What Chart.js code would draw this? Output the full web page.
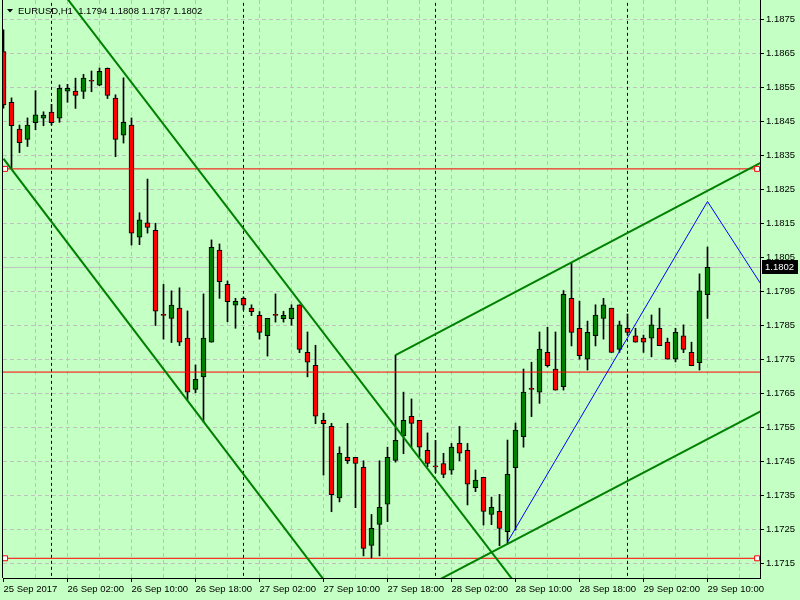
<!DOCTYPE html>
<html>
<head>
<meta charset="utf-8">
<script src="https://cdn.jsdelivr.net/npm/chart.js@4.4.1/dist/chart.umd.min.js"></script>
<style>
  html, body { margin: 0; padding: 0; background: #c4ffc4; }
  #wrap { width: 800px; height: 600px; }
</style>
</head>
<body>
<div id="wrap"><canvas id="myChart" width="800" height="600"></canvas></div>
<script>
// EURUSD H1, one entry per bar (25 Sep 18:00 .. 29 Sep 10:00)
var symbol = 'EURUSD,H1';
var opens = [1.18655,1.18506,1.18427,1.18397,1.18446,1.18459,1.18477,1.18459,1.18539,1.18539,
  1.18538,1.18568,1.18556,1.18606,1.18518,1.18409,1.18439,1.18109,1.18151,1.18129,
  1.17879,1.17870,1.17900,1.17812,1.17661,1.17698,1.17800,1.18071,1.17970,1.17909,
  1.17929,1.17900,1.17879,1.17819,1.17879,1.17869,1.17869,1.17910,1.17770,1.17732,
  1.17570,1.17552,1.17342,1.17461,1.17461,1.17432,1.17202,1.17264,1.17323,1.17452,
  1.17524,1.17582,1.17570,1.17482,1.17433,1.17443,1.17423,1.17502,1.17482,1.17372,
  1.17402,1.17293,1.17302,1.17242,1.17431,1.17522,1.17661,1.17653,1.17770,1.17721,
  1.17669,1.17929,1.17841,1.17750,1.17819,1.17870,1.17900,1.17779,1.17841,1.17819,
  1.17812,1.17812,1.17841,1.17800,1.17750,1.17819,1.17770,1.17740,1.17940];
var highs = [1.18719,1.18519,1.18439,1.18460,1.18540,1.18478,1.18500,1.18557,1.18559,1.18577,
  1.18588,1.18598,1.18607,1.18607,1.18528,1.18578,1.18460,1.18181,1.18280,1.18150,
  1.17970,1.17951,1.17960,1.17892,1.17733,1.17942,1.18101,1.18089,1.17980,1.17929,
  1.17933,1.17910,1.17890,1.17870,1.17942,1.17891,1.17910,1.17910,1.17830,1.17791,
  1.17591,1.17561,1.17492,1.17561,1.17461,1.17451,1.17293,1.17451,1.17491,1.17762,
  1.17653,1.17633,1.17570,1.17533,1.17511,1.17473,1.17502,1.17552,1.17502,1.17424,
  1.17402,1.17344,1.17352,1.17512,1.17562,1.17721,1.17741,1.17830,1.17844,1.17830,
  1.17952,1.18032,1.17921,1.17862,1.17910,1.17929,1.17900,1.17862,1.17883,1.17841,
  1.17821,1.17880,1.17900,1.17812,1.17841,1.17851,1.17800,1.18001,1.18080];
var lows = [1.18489,1.18313,1.18358,1.18376,1.18425,1.18437,1.18439,1.18447,1.18506,1.18488,
  1.18517,1.18537,1.18555,1.18517,1.18346,1.18386,1.18086,1.18087,1.18121,1.17849,
  1.17809,1.17799,1.17790,1.17630,1.17651,1.17565,1.17800,1.17929,1.17860,1.17841,
  1.17895,1.17878,1.17809,1.17759,1.17859,1.17859,1.17850,1.17769,1.17698,1.17560,
  1.17409,1.17301,1.17330,1.17443,1.17313,1.17171,1.17164,1.17171,1.17272,1.17447,
  1.17472,1.17492,1.17463,1.17433,1.17416,1.17401,1.17411,1.17451,1.17321,1.17360,
  1.17262,1.17263,1.17201,1.17206,1.17247,1.17491,1.17581,1.17620,1.17727,1.17659,
  1.17659,1.17789,1.17750,1.17718,1.17789,1.17809,1.17770,1.17770,1.17821,1.17800,
  1.17770,1.17757,1.17790,1.17750,1.17742,1.17769,1.17731,1.17718,1.17870];
var closes = [1.18498,1.18437,1.18387,1.18439,1.18469,1.18468,1.18446,1.18547,1.18547,1.18526,
  1.18577,1.18568,1.18597,1.18526,1.18397,1.18447,1.18121,1.18160,1.18138,1.17891,
  1.17879,1.17909,1.17800,1.17653,1.17691,1.17812,1.18079,1.17978,1.17919,1.17920,
  1.17909,1.17890,1.17829,1.17870,1.17879,1.17879,1.17900,1.17779,1.17741,1.17582,
  1.17560,1.17351,1.17473,1.17451,1.17443,1.17193,1.17252,1.17314,1.17461,1.17511,
  1.17570,1.17561,1.17491,1.17443,1.17433,1.17411,1.17491,1.17473,1.17382,1.17394,
  1.17302,1.17314,1.17252,1.17411,1.17541,1.17653,1.17661,1.17780,1.17731,1.17659,
  1.17941,1.17829,1.17760,1.17829,1.17880,1.17910,1.17770,1.17851,1.17829,1.17800,
  1.17800,1.17851,1.17790,1.17750,1.17829,1.17779,1.17731,1.17951,1.18020];

// time labels, one every 8 bars
var timeLabels = ['25 Sep 2017','26 Sep 02:00','26 Sep 10:00','26 Sep 18:00','27 Sep 02:00',
  '27 Sep 10:00','27 Sep 18:00','28 Sep 02:00','28 Sep 10:00','28 Sep 18:00','29 Sep 02:00','29 Sep 10:00'];
var priceTicks = [1.1715,1.1725,1.1735,1.1745,1.1755,1.1765,1.1775,1.1785,1.1795,1.1805,
  1.1815,1.1825,1.1835,1.1845,1.1855,1.1865,1.1875];
var daySeparators = [6, 30, 54, 78]; // midnight bars

// objects drawn on the chart: [bar, price]
var channelDownTop = [[8, 1.18810], [64, 1.17090]];
var channelDownBottom = [[0, 1.18340], [42, 1.17040]];
var channelUpTop = [[49, 1.17762], [100, 1.18394]];
var channelUpBottom = [[50, 1.17046], [100, 1.17663]];
var zigzag = [[63, 1.17212], [88, 1.18214], [100, 1.17777]];
var hLines = [1.18310, 1.17712, 1.17164];
var hLineMarked = [true, false, true];
var markerBars = [0.2, 94.2];

var xMin = -0.0625, xMax = 94.5625;
var yMin = 1.17106, yMax = 1.18807;

var bull = '#008000', bear = '#ff0000';
var last = closes.length - 1;

Chart.defaults.font.family = '"Liberation Sans", Arial, sans-serif';
Chart.defaults.font.size = 9.5;
Chart.defaults.color = '#000';

var datasets = [];

// wicks
datasets.push({
  type: 'bar', order: 4, grouped: false, barThickness: 1, borderWidth: 0,
  backgroundColor: '#000',
  data: lows.map(function (l, i) { return {x: i, y: [l, highs[i]]}; })
});
// bodies
datasets.push({
  type: 'bar', order: 3, grouped: false, barThickness: 5, minBarLength: 1,
  borderWidth: 1, borderColor: '#000', borderSkipped: false,
  backgroundColor: opens.map(function (o, i) { return closes[i] > o ? bull : bear; }),
  data: opens.map(function (o, i) { return {x: i, y: [o, closes[i]]}; })
});

function seg(points) { return points.map(function (p) { return {x: p[0], y: p[1]}; }); }

// bid line
datasets.push({type: 'line', order: 6, borderColor: '#c0c0c0', borderWidth: 1, pointRadius: 0,
  data: [{x: xMin - 1, y: closes[last]}, {x: xMax + 1, y: closes[last]}]});

daySeparators.forEach(function (b) {
  datasets.push({type: 'line', order: 5, borderColor: '#000', borderWidth: 1, borderDash: [3, 3],
    pointRadius: 0, data: [{x: b, y: yMin - 0.01}, {x: b, y: yMax + 0.01}]});
});

hLines.forEach(function (p, i) {
  datasets.push({type: 'line', order: 2, borderColor: '#ff0000', borderWidth: 1, pointRadius: 0,
    data: [{x: xMin - 1, y: p}, {x: xMax + 1, y: p}]});
  if (hLineMarked[i]) {
    datasets.push({type: 'line', order: 0, showLine: false, pointStyle: 'rect', pointRadius: 3.5,
      pointBackgroundColor: '#ffffff', pointBorderColor: '#ff0000', pointBorderWidth: 1,
      data: markerBars.map(function (b) { return {x: b, y: p}; })});
  }
});

[channelDownTop, channelDownBottom, channelUpTop, channelUpBottom].forEach(function (c) {
  datasets.push({type: 'line', order: 1, borderColor: bull, borderWidth: 2, pointRadius: 0, data: seg(c)});
});
datasets.push({type: 'line', order: 1, borderColor: '#0000ff', borderWidth: 1, pointRadius: 0, data: seg(zigzag)});

var xTicks = [];
for (var k = 0; k <= 92; k += 4) xTicks.push(k);

var chrome = {
  id: 'chrome',
  afterDraw: function (chart) {
    var ctx = chart.ctx, a = chart.chartArea, y = chart.scales.y;
    ctx.save();
    ctx.fillStyle = '#000';
    ctx.fillRect(a.left - 1, a.top, 1, a.bottom - a.top);
    // header
    ctx.beginPath(); ctx.moveTo(7, 9); ctx.lineTo(13, 9); ctx.lineTo(10, 12.5); ctx.closePath(); ctx.fill();
    ctx.font = '9.5px "Liberation Sans"';
    ctx.textBaseline = 'middle'; ctx.textAlign = 'left';
    var ohlc = [opens[last], highs[last], lows[last], closes[last]].map(function (v) { return v.toFixed(4); });
    ctx.fillText(symbol + '  ' + ohlc.join(' '), 18, 11);
    // last price tag
    var py = Math.round(y.getPixelForValue(closes[last]));
    ctx.fillRect(a.right + 2, py - 7, 36, 14);
    ctx.fillStyle = '#fff';
    ctx.fillText(closes[last].toFixed(4), a.right + 5, py + 0.5);
    ctx.restore();
  }
};

function noPad(s) { s.paddingLeft = 0; s.paddingRight = 0; s.paddingTop = 0; s.paddingBottom = 0; }

var ctx = document.getElementById('myChart').getContext('2d');
var myChart = new Chart(ctx, {
  type: 'bar',
  data: {datasets: datasets},
  plugins: [chrome],
  options: {
    responsive: false, animation: false, devicePixelRatio: 1,
    layout: {autoPadding: false, padding: {left: 3, top: 0, right: 0, bottom: 0}},
    plugins: {legend: {display: false}, tooltip: {enabled: false}},
    scales: {
      x: {
        type: 'linear', min: xMin, max: xMax, offset: false,
        afterBuildTicks: function (s) { s.ticks = xTicks.map(function (v) { return {value: v}; }); },
        afterFit: function (s) { s.height = 22; noPad(s); },
        ticks: {
          autoSkip: false, maxRotation: 0, align: 'start', padding: 2,
          callback: function (v) { return v % 8 === 0 ? timeLabels[v / 8] : ''; }
        },
        grid: {
          offset: false,
          color: function (c) { return c.tick && c.tick.value === 0 ? 'rgba(0,0,0,0)' : '#c0c0c0'; },
          tickColor: function (c) { return c.tick && c.tick.value % 8 === 0 ? '#000' : 'rgba(0,0,0,0)'; },
          tickLength: 4
        },
        border: {color: '#000', dash: [4, 3]}
      },
      y: {
        position: 'right', min: yMin, max: yMax,
        afterBuildTicks: function (s) { s.ticks = priceTicks.map(function (v) { return {value: v}; }); },
        afterFit: function (s) { s.width = 40; noPad(s); },
        ticks: {padding: 2, callback: function (v) { return v.toFixed(4); }},
        grid: {color: '#c0c0c0', tickColor: '#000', tickLength: 4},
        border: {color: '#000', dash: [4, 3]}
      }
    }
  }
});
</script>
</body>
</html>
